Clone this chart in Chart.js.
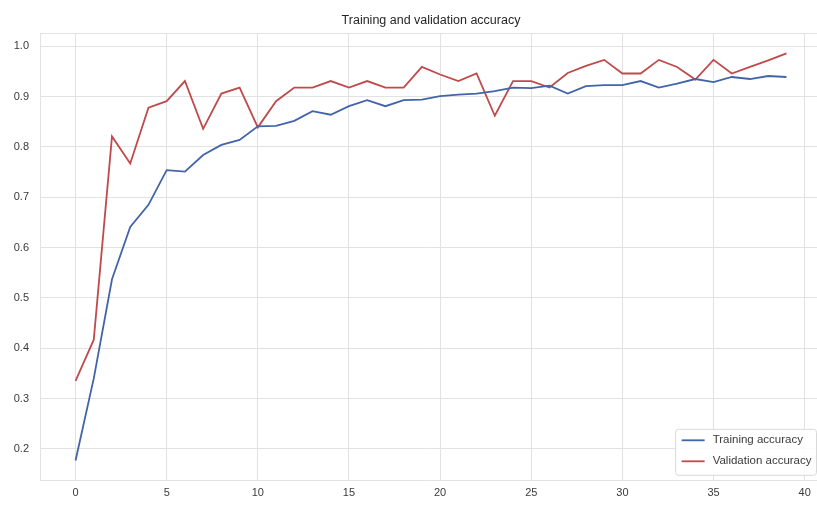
<!DOCTYPE html>
<html>
<head>
<meta charset="utf-8">
<title>Training and validation accuracy</title>
<script src="https://cdn.jsdelivr.net/npm/chart.js@4.4.1/dist/chart.umd.min.js"></script>
<style>
  html, body { margin: 0; padding: 0; background: #ffffff; overflow: hidden; }
  #wrap { position: absolute; left: 0; top: 0; width: 823px; height: 506px; }
</style>
</head>
<body>
<div id="wrap"><canvas id="chart" width="823" height="506"></canvas></div>
<script>
// Epoch index and per-epoch accuracy for the training and validation sets
const epochs = [0,1,2,3,4,5,6,7,8,9,10,11,12,13,14,15,16,17,18,19,20,21,22,23,24,25,26,27,28,29,30,31,32,33,34,35,36,37,38,39];
const trainAcc = [0.177,0.340,0.537,0.641,0.685,0.754,0.751,0.784,0.804,0.814,0.841,0.842,0.852,0.871,0.864,0.881,0.893,0.881,0.893,0.894,0.901,0.904,0.906,0.911,0.918,0.917,0.922,0.906,0.921,0.923,0.923,0.931,0.918,0.926,0.935,0.929,0.939,0.935,0.941,0.939];
const valAcc = [0.335,0.417,0.821,0.767,0.878,0.891,0.931,0.836,0.906,0.918,0.839,0.891,0.918,0.918,0.931,0.918,0.931,0.918,0.918,0.959,0.944,0.931,0.946,0.862,0.931,0.931,0.918,0.947,0.961,0.973,0.946,0.946,0.973,0.959,0.934,0.973,0.946,0.959,0.972,0.986];
const xTicks = [0,5,10,15,20,25,30,35,40];
const yTicks = [0.2,0.3,0.4,0.5,0.6,0.7,0.8,0.9,1.0];
const seriesLabels = ['Training accuracy', 'Validation accuracy'];
const chartTitle = 'Training and validation accuracy';

const FONT = "'Liberation Sans', Arial, sans-serif";
const GRID = '#e2e2e2';
const TEXT = '#3a3a3a';
const BLUE = '#4264a8';
const RED = '#c04a4b';

// axis limits with a 5% margin around the data, as pyplot does
const allVals = trainAcc.concat(valAcc);
const yLo = Math.min(...allVals), yHi = Math.max(...allVals);
const yPad = (yHi - yLo) * 0.05;
const xPad = (epochs[epochs.length - 1] - epochs[0]) * 0.05;

// Top / right frame lines of the axes box
const framePlugin = {
  id: 'frame',
  beforeDatasetsDraw(chart) {
    const { ctx, chartArea: a } = chart;
    ctx.save();
    ctx.strokeStyle = GRID;
    ctx.lineWidth = 1;
    ctx.beginPath();
    ctx.moveTo(a.left, a.top + 0.5);
    ctx.lineTo(a.right, a.top + 0.5);
    ctx.moveTo(a.right - 0.5, a.top);
    ctx.lineTo(a.right - 0.5, a.bottom);
    ctx.stroke();
    ctx.restore();
  }
};

// Title centred over the plotting area
const axesTitle = {
  id: 'axesTitle',
  afterDraw(chart) {
    const { ctx, chartArea: a } = chart;
    ctx.save();
    ctx.font = '12.5px ' + FONT;
    ctx.fillStyle = '#262626';
    ctx.textAlign = 'center';
    ctx.textBaseline = 'middle';
    ctx.fillText(chartTitle, (a.left + a.right) / 2, a.top - 12);
    ctx.restore();
  }
};

// Legend box inside the lower-right corner of the plot
const innerLegend = {
  id: 'innerLegend',
  afterDraw(chart) {
    const { ctx, chartArea: a } = chart;
    const sets = chart.data.datasets;
    ctx.save();
    ctx.font = '11.5px ' + FONT;
    const textW = Math.max(...sets.map(d => ctx.measureText(d.label).width));
    const gap = 5.5;
    const w = 6 + 23 + 8 + textW + 5;
    const h = 46;
    const right = a.right - gap;
    const bottom = a.bottom - gap;
    const left = right - w, top = bottom - h;
    const r = 3;
    ctx.beginPath();
    ctx.moveTo(left + r, top);
    ctx.lineTo(right - r, top);
    ctx.quadraticCurveTo(right, top, right, top + r);
    ctx.lineTo(right, bottom - r);
    ctx.quadraticCurveTo(right, bottom, right - r, bottom);
    ctx.lineTo(left + r, bottom);
    ctx.quadraticCurveTo(left, bottom, left, bottom - r);
    ctx.lineTo(left, top + r);
    ctx.quadraticCurveTo(left, top, left + r, top);
    ctx.closePath();
    ctx.fillStyle = 'rgba(255,255,255,0.85)';
    ctx.fill();
    ctx.strokeStyle = '#d9d9d9';
    ctx.lineWidth = 1;
    ctx.stroke();
    sets.forEach((d, i) => {
      const y = top + 11 + i * 21;
      ctx.strokeStyle = d.borderColor;
      ctx.lineWidth = 1.8;
      ctx.beginPath();
      ctx.moveTo(left + 6, y);
      ctx.lineTo(left + 29, y);
      ctx.stroke();
      ctx.fillStyle = TEXT;
      ctx.textBaseline = 'middle';
      ctx.textAlign = 'left';
      ctx.fillText(d.label, left + 37, y);
    });
    ctx.restore();
  }
};

new Chart(document.getElementById('chart'), {
  type: 'line',
  data: {
    datasets: [
      { label: seriesLabels[0], data: epochs.map((e, i) => ({ x: e, y: trainAcc[i] })),
        borderColor: BLUE, backgroundColor: BLUE, borderWidth: 1.8, pointRadius: 0, tension: 0 },
      { label: seriesLabels[1], data: epochs.map((e, i) => ({ x: e, y: valAcc[i] })),
        borderColor: RED, backgroundColor: RED, borderWidth: 1.8, pointRadius: 0, tension: 0 }
    ]
  },
  options: {
    responsive: false,
    animation: false,
    layout: { padding: { left: 0, right: 1, top: 33, bottom: 0 } },
    plugins: {
      legend: { display: false },
      tooltip: { enabled: false },
      title: { display: false }
    },
    scales: {
      x: {
        type: 'linear',
        min: epochs[0] - xPad, max: epochs[epochs.length - 1] + xPad,
        afterBuildTicks: s => { s.ticks = xTicks.map(v => ({ value: v })); },
        afterFit: s => { s.height = 25.2; },
        grid: { color: GRID, lineWidth: 1, drawTicks: false },
        border: { display: true, color: GRID },
        ticks: { color: TEXT, font: { family: FONT, size: 11 }, padding: 6, maxRotation: 0,
                 callback: v => String(v) }
      },
      y: {
        type: 'linear',
        min: yLo - yPad, max: yHi + yPad,
        afterBuildTicks: s => { s.ticks = yTicks.map(v => ({ value: v })); },
        afterFit: s => { s.width = 40; },
        grid: { color: GRID, lineWidth: 1, drawTicks: false },
        border: { display: true, color: GRID },
        ticks: { color: TEXT, font: { family: FONT, size: 11 }, padding: 11,
                 callback: v => v.toFixed(1) }
      }
    }
  },
  plugins: [framePlugin, axesTitle, innerLegend]
});
</script>
</body>
</html>
